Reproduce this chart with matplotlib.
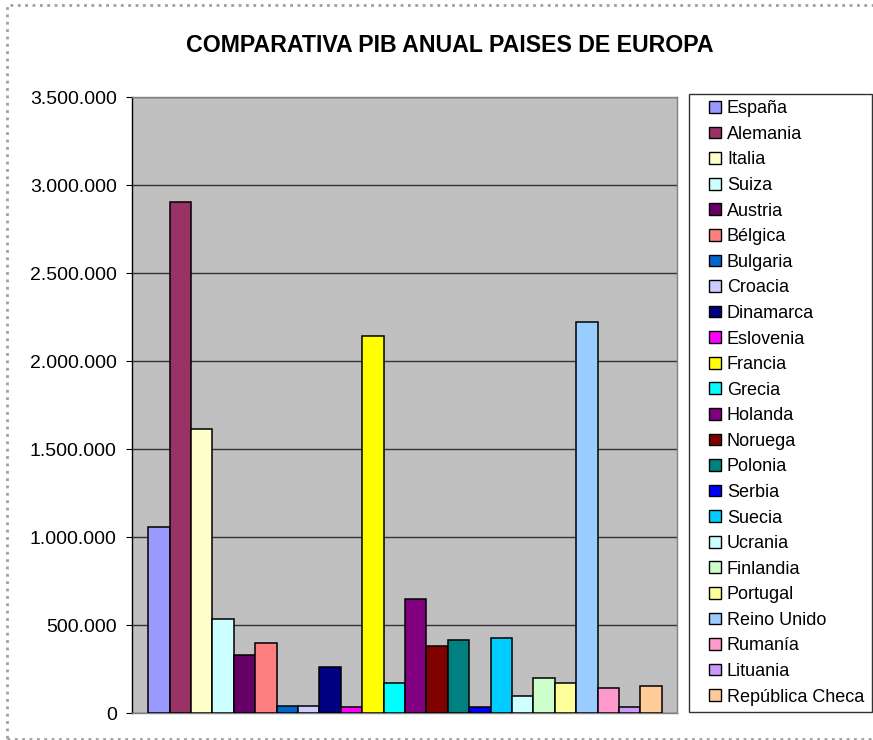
import numpy as np
import matplotlib.pyplot as plt
from matplotlib.patches import Patch, Rectangle
from matplotlib.legend_handler import HandlerPatch
from matplotlib.ticker import FuncFormatter

plt.rcParams['font.family'] = ['Liberation Sans', 'DejaVu Sans']

paises = ['España', 'Alemania', 'Italia', 'Suiza', 'Austria', 'Bélgica',
          'Bulgaria', 'Croacia', 'Dinamarca', 'Eslovenia', 'Francia', 'Grecia',
          'Holanda', 'Noruega', 'Polonia', 'Serbia', 'Suecia', 'Ucrania',
          'Finlandia', 'Portugal', 'Reino Unido', 'Rumanía', 'Lituania',
          'República Checa']
pib = [1060000, 2903000, 1615000, 534000, 331000, 399000,
       41500, 41000, 261000, 34000, 2145000, 174000,
       651000, 381000, 415000, 34000, 430000, 98000,
       202000, 174000, 2225000, 145000, 34000, 155000]
colores = ['#9999FF', '#993366', '#FFFFCC', '#CCFFFF', '#660066', '#FF8080',
           '#0066CC', '#CCCCFF', '#000080', '#FF00FF', '#FFFF00', '#00FFFF',
           '#800080', '#800000', '#008080', '#0000FF', '#00CCFF', '#CCFFFF',
           '#CCFFCC', '#FFFF99', '#99CCFF', '#FF99CC', '#CC99FF', '#FFCC99']
yticks = [0, 500000, 1000000, 1500000, 2000000, 2500000, 3000000, 3500000]

W, H = 873, 740
fig = plt.figure(figsize=(W / 100, H / 100), dpi=100)
ax = fig.add_axes([132 / W, 1 - 713.3 / H, (676.7 - 132) / W, (713.3 - 97.3) / H])
ax.set_facecolor('#C0C0C0')

x = np.arange(len(pib))
ax.bar(x, pib, width=1.0, color=colores, edgecolor='black', linewidth=1.1, zorder=3)

ax.set_ylim(0, 3500000)
ax.set_xlim(-0.5 - 0.76, len(pib) - 0.5 + 0.70)
ax.set_yticks(yticks)
ax.yaxis.set_major_formatter(FuncFormatter(lambda v, p: '{:,.0f}'.format(v).replace(',', '.')))
ax.set_xticks([])
ax.grid(axis='y', color='#333333', linewidth=1.0, zorder=1)
ax.tick_params(axis='y', direction='out', length=4, width=0.8, pad=7, labelsize=14)

for s in ['top', 'right', 'bottom']:
    ax.spines[s].set_color('#808080')
    ax.spines[s].set_linewidth(1.0)
ax.spines['left'].set_color('black')
ax.spines['left'].set_linewidth(1.0)

fig.text(450 / W, 1 - 45 / H, 'COMPARATIVA PIB ANUAL PAISES DE EUROPA',
         ha='center', va='center', fontsize=16.7, fontweight='bold')


# square marker pushed to the right end of the handle box
def square_right(legend, orig_handle, xdescent, ydescent, width, height, fontsize):
    s = height
    return Rectangle((-xdescent + width - s, -ydescent), s, s)


handles = [Patch(facecolor=c, edgecolor='black', linewidth=1.0) for c in colores]
leg = fig.legend(handles, paises, loc='upper left',
                 bbox_to_anchor=(689 / W, 1 - 94 / H, (872 - 689) / W, 0),
                 mode='expand', borderaxespad=0, fancybox=False, frameon=True,
                 edgecolor='black', fontsize=13, handlelength=1.4,
                 handleheight=0.62, handletextpad=0.35, labelspacing=0.475,
                 borderpad=0.35,
                 handler_map={Patch: HandlerPatch(patch_func=square_right)})
leg.get_frame().set_linewidth(1.0)
leg.get_frame().set_facecolor('white')

border = Rectangle((7 / W, 1 - 739 / H), 1.0, (739 - 5) / H, transform=fig.transFigure,
                   fill=False, edgecolor='#A0A0A0', linewidth=2, linestyle=':')
fig.patches.append(border)

fig.savefig('out.png', dpi=100)
